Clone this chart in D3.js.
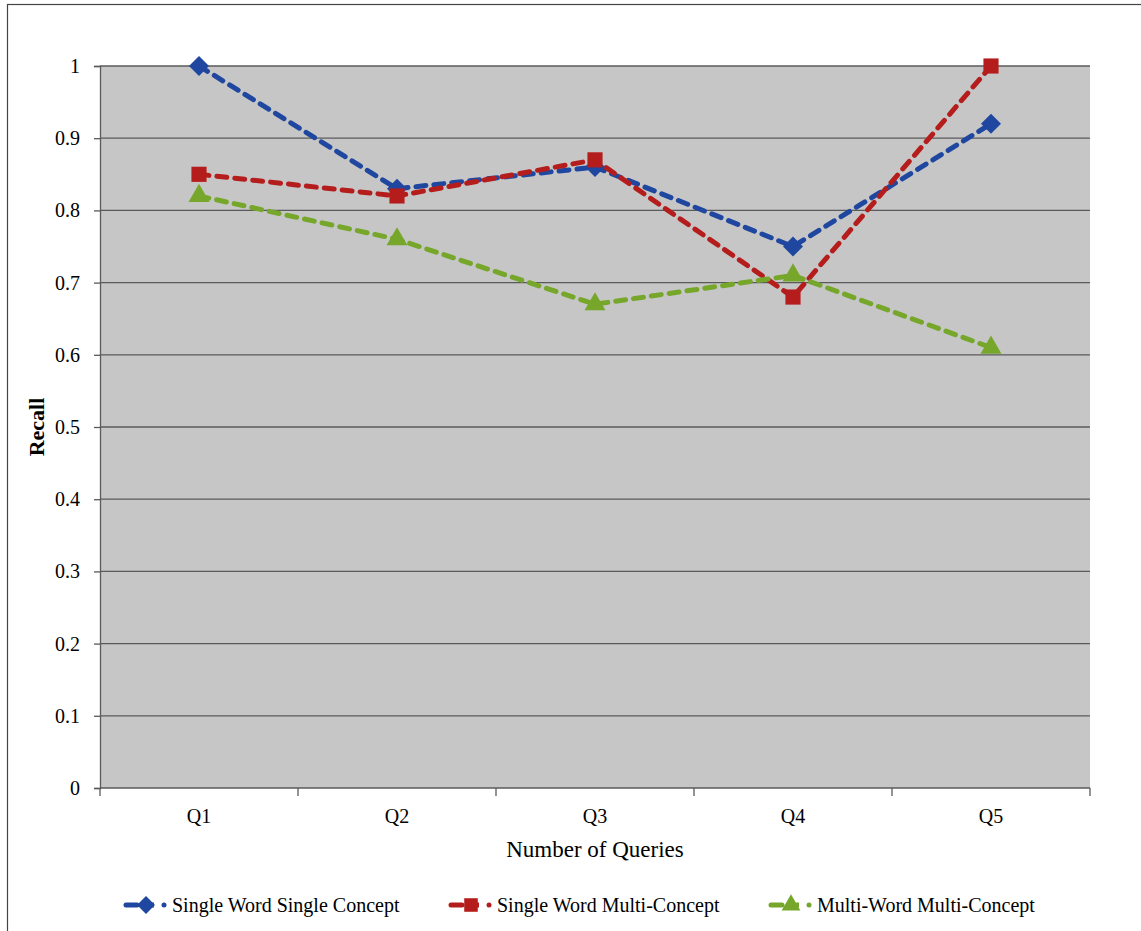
<!DOCTYPE html>
<html>
<head>
<meta charset="utf-8">
<script src="https://cdn.jsdelivr.net/npm/d3@7"></script>
<style>
  html, body { margin: 0; padding: 0; background: #fff; }
  svg { display: block; }
  text { font-family: "Liberation Serif", "Times New Roman", serif; fill: #000; }
</style>
</head>
<body>
<svg id="chart" width="1141" height="931"></svg>
<script>
// Queries on the x axis
const categories = ["Q1", "Q2", "Q3", "Q4", "Q5"];

// Recall per query type
const singleWordSingleConcept = [1.0, 0.83, 0.86, 0.75, 0.92];
const singleWordMultiConcept  = [0.85, 0.82, 0.87, 0.68, 1.0];
const multiWordMultiConcept   = [0.82, 0.76, 0.67, 0.71, 0.61];

const seriesNames = ["Single Word Single Concept", "Single Word Multi-Concept", "Multi-Word Multi-Concept"];
const yTicks = [0, 0.1, 0.2, 0.3, 0.4, 0.5, 0.6, 0.7, 0.8, 0.9, 1];

// diamond drawn as a square turned 45 degrees
const diamond = {
  draw(ctx, size) {
    const r = Math.sqrt(size / 2);
    ctx.moveTo(0, -r); ctx.lineTo(r, 0); ctx.lineTo(0, r); ctx.lineTo(-r, 0); ctx.closePath();
  }
};

const series = [
  { name: seriesNames[0], values: singleWordSingleConcept, color: "#1f47a0", symbol: diamond,          size: 200 },
  { name: seriesNames[1], values: singleWordMultiConcept,  color: "#b51d1d", symbol: d3.symbolSquare,   size: 230 },
  { name: seriesNames[2], values: multiWordMultiConcept,   color: "#76a72b", symbol: d3.symbolTriangle, size: 190 }
];

const svg = d3.select("#chart");
const W = 1141, H = 931;

// outer frame
svg.append("rect")
  .attr("x", 7.5).attr("y", 4.5)
  .attr("width", W - 6).attr("height", H + 10)
  .attr("fill", "#fff").attr("stroke", "#444").attr("stroke-width", 1.2);

const plot = { left: 100, right: 1090, top: 66, bottom: 788 };

const x = d3.scaleBand().domain(categories).range([plot.left, plot.right]).paddingInner(0).paddingOuter(0);
const y = d3.scaleLinear().domain([0, 1]).range([plot.bottom, plot.top]);

// plot background
svg.append("rect")
  .attr("x", plot.left).attr("y", plot.top)
  .attr("width", plot.right - plot.left).attr("height", plot.bottom - plot.top)
  .attr("fill", "#c6c6c6");

// horizontal gridlines
svg.append("g")
  .selectAll("line")
  .data(yTicks.filter(d => d > 0))
  .join("line")
  .attr("x1", plot.left).attr("x2", plot.right)
  .attr("y1", d => y(d)).attr("y2", d => y(d))
  .attr("stroke", "#5a5a5a").attr("stroke-width", 1.3);

// y axis
const yAxis = svg.append("g")
  .attr("transform", `translate(${plot.left},0)`)
  .call(d3.axisLeft(y).tickValues(yTicks).tickFormat(d => d3.format("")(d)).tickSize(6).tickPadding(14));
yAxis.select(".domain").attr("stroke", "#5a5a5a").attr("stroke-width", 1.3);
yAxis.selectAll(".tick line").attr("stroke", "#5a5a5a").attr("stroke-width", 1.3);
yAxis.selectAll(".tick text")
  .style("font-family", "'Liberation Serif', 'Times New Roman', serif")
  .style("font-size", "20px").attr("fill", "#000");

// x axis with ticks at category boundaries
const xAxisG = svg.append("g").attr("transform", `translate(0,${plot.bottom})`);
xAxisG.append("line")
  .attr("x1", plot.left).attr("x2", plot.right)
  .attr("stroke", "#5a5a5a").attr("stroke-width", 1.5);
const boundaries = categories.map(c => x(c)).concat([x(categories[categories.length - 1]) + x.bandwidth()]);
xAxisG.selectAll("line.tick")
  .data(boundaries)
  .join("line")
  .attr("class", "tick")
  .attr("x1", d => d).attr("x2", d => d)
  .attr("y1", 0).attr("y2", 8)
  .attr("stroke", "#5a5a5a").attr("stroke-width", 1.3);
xAxisG.selectAll("text")
  .data(categories)
  .join("text")
  .attr("x", d => x(d) + x.bandwidth() / 2)
  .attr("y", 35)
  .attr("text-anchor", "middle")
  .style("font-size", "20px")
  .text(d => d);

// axis titles
svg.append("text")
  .attr("x", plot.left + (plot.right - plot.left) / 2)
  .attr("y", 857)
  .attr("text-anchor", "middle")
  .style("font-size", "23px")
  .text("Number of Queries");

svg.append("text")
  .attr("transform", `translate(44,${(plot.top + plot.bottom) / 2}) rotate(-90)`)
  .attr("text-anchor", "middle")
  .style("font-size", "22px")
  .style("font-weight", "bold")
  .text("Recall");

// series lines and markers
const line = d3.line()
  .x((d, i) => x(categories[i]) + x.bandwidth() / 2)
  .y(d => y(d));

const g = svg.append("g");
series.forEach(s => {
  g.append("path")
    .datum(s.values)
    .attr("d", line)
    .attr("fill", "none")
    .attr("stroke", s.color)
    .attr("stroke-width", 5)
    .attr("stroke-dasharray", "10,8")
    .attr("stroke-linecap", "round");
});
series.forEach(s => {
  g.selectAll(null)
    .data(s.values)
    .join("path")
    .attr("transform", (d, i) => `translate(${x(categories[i]) + x.bandwidth() / 2},${y(d)})`)
    .attr("d", d3.symbol().type(s.symbol).size(s.size))
    .attr("fill", s.color);
});

// legend
const legendX = [124, 449, 769];
const legendY = 905;
const legend = svg.append("g");
series.forEach((s, i) => {
  const lg = legend.append("g").attr("transform", `translate(${legendX[i]},${legendY})`);
  lg.append("line")
    .attr("x1", 2).attr("x2", 13).attr("y1", 0).attr("y2", 0)
    .attr("stroke", s.color).attr("stroke-width", 5).attr("stroke-linecap", "round");
  lg.append("path")
    .attr("transform", "translate(22,0)")
    .attr("d", d3.symbol().type(s.symbol).size(s.size * 0.8))
    .attr("fill", s.color);
  lg.append("line")
    .attr("x1", 26).attr("x2", 30).attr("y1", 0).attr("y2", 0)
    .attr("stroke", s.color).attr("stroke-width", 5);
  lg.append("circle")
    .attr("cx", 40).attr("cy", 0).attr("r", 2.5)
    .attr("fill", s.color);
  lg.append("text")
    .attr("x", 48).attr("y", 7)
    .style("font-size", "20px")
    .text(s.name);
});
</script>
</body>
</html>
